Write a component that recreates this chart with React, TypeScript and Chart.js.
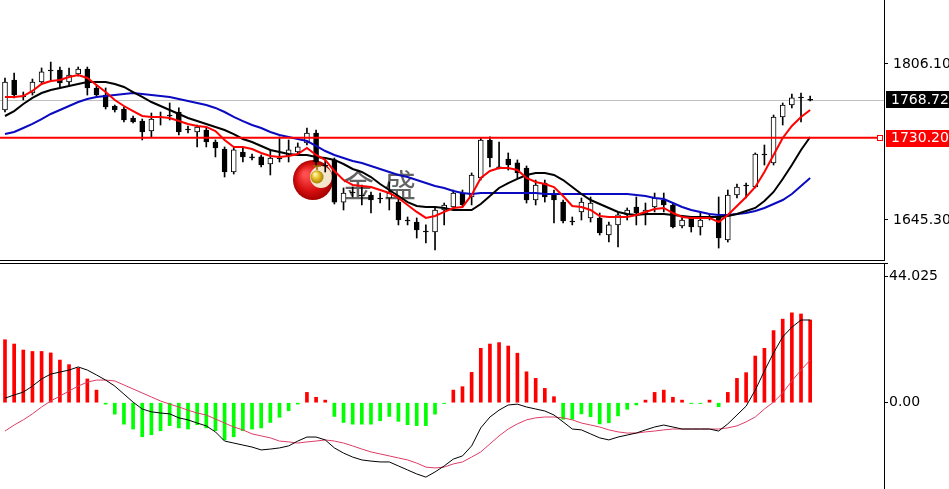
import React, { useEffect, useRef } from 'react';
import { Chart, registerables } from 'chart.js';

Chart.register(...registerables);

const FONT = '"DejaVu Sans", Verdana, sans-serif';

// ---- price panel data (one value per candle) ----
const openP = [1758.7,1789.6,1773.1,1776.2,1787.5,1799.9,1799.9,1787.5,1795.8,1800.9,
  1781.4,1774.1,1762.8,1759.7,1750.4,1747.3,1737.0,1751.5,1753.5,1756.6,
  1739.1,1736.0,1738.1,1725.7,1718.5,1694.8,1715.4,1710.3,1710.3,1703.0,
  1709.2,1711.3,1715.4,1724.7,1735.0,1702.0,1707.2,1663.8,1674.2,1671.1,
  1671.1,1668.0,1668.0,1663.8,1645.3,1643.2,1634.0,1632.9,1655.6,1658.7,
  1673.1,1669.0,1688.6,1727.8,1700.0,1708.2,1704.1,1698.9,1665.9,1683.4,
  1671.1,1663.8,1644.3,1653.6,1647.4,1647.4,1629.8,1640.2,1650.5,1658.7,
  1650.5,1658.7,1665.9,1660.8,1639.1,1647.4,1638.1,1648.4,1648.4,1624.7,
  1671.1,1681.4,1679.3,1713.3,1704.1,1751.5,1763.8,1772.1,1769.7];
const closeP = [1787.5,1774.1,1772.1,1787.5,1797.9,1798.9,1786.5,1794.8,1800.9,1781.4,
  1774.1,1761.8,1758.7,1748.4,1746.3,1736.0,1749.4,1750.5,1752.5,1736.0,
  1738.1,1741.2,1725.7,1719.5,1694.8,1717.5,1710.3,1709.3,1702.0,1709.2,
  1708.2,1717.5,1720.6,1735.0,1705.1,1701.0,1663.8,1673.1,1673.2,1670.1,
  1665.9,1667.0,1673.1,1645.3,1644.3,1635.0,1633.0,1655.6,1660.8,1673.1,
  1660.8,1691.7,1727.8,1709.2,1699.0,1702.0,1693.8,1665.9,1681.4,1669.0,
  1665.9,1644.3,1643.3,1663.8,1662.8,1631.9,1640.2,1650.5,1655.6,1652.5,
  1655.6,1668.0,1660.8,1638.1,1645.3,1638.1,1645.3,1647.4,1626.7,1671.1,
  1679.3,1680.4,1713.3,1712.3,1751.5,1763.8,1771.1,1771.1,1768.7];
const highP = [1791.7,1796.8,1777.2,1790.6,1802.0,1808.1,1803.0,1802.0,1803.0,1803.0,
  1784.5,1781.4,1763.8,1761.8,1752.5,1749.4,1755.6,1756.6,1765.9,1760.8,
  1742.2,1743.2,1741.2,1727.8,1720.6,1719.5,1719.5,1713.3,1712.3,1717.5,
  1730.9,1727.8,1724.7,1740.1,1738.1,1707.2,1709.2,1678.3,1679.3,1681.4,
  1674.2,1673.1,1684.5,1668.0,1648.4,1647.4,1640.2,1657.7,1662.8,1676.2,
  1676.2,1693.8,1729.8,1730.9,1725.7,1714.4,1707.2,1701.0,1686.5,1686.5,
  1676.2,1665.9,1648.4,1668.0,1669.0,1652.5,1643.2,1652.5,1657.7,1669.0,
  1662.8,1673.1,1673.1,1662.8,1647.4,1648.4,1653.6,1651.5,1669.0,1676.2,
  1682.4,1683.4,1714.4,1722.6,1753.5,1765.9,1775.2,1776.2,1773.1];
const lowP = [1756.6,1771.1,1769.0,1774.1,1785.5,1789.6,1782.4,1784.5,1793.7,1774.1,
  1772.1,1759.7,1756.6,1746.3,1745.3,1727.8,1730.9,1743.2,1748.4,1732.9,
  1735.0,1720.6,1720.6,1710.3,1689.6,1692.7,1705.1,1707.2,1700.0,1691.7,
  1705.1,1705.1,1712.3,1722.6,1702.0,1694.8,1661.8,1655.6,1669.0,1660.8,
  1652.5,1662.8,1655.6,1640.2,1640.2,1626.7,1621.6,1614.4,1640.2,1655.6,
  1658.7,1660.8,1686.5,1700.0,1698.0,1696.8,1688.6,1662.8,1660.8,1663.8,
  1642.2,1642.2,1640.2,1645.3,1643.2,1629.8,1622.6,1617.5,1645.3,1640.2,
  1640.2,1653.6,1653.6,1637.1,1637.1,1632.9,1629.8,1645.3,1616.4,1622.6,
  1668.0,1668.0,1678.3,1702.0,1702.0,1743.2,1760.8,1746.3,1768.0];

const maFast = [1772.1,1772.1,1773.1,1778.3,1785.5,1788.6,1789.6,1792.7,1794.8,1791.7,
  1784.5,1777.2,1769.0,1762.8,1757.6,1752.5,1751.5,1751.5,1750.4,1747.3,
  1744.3,1742.2,1741.2,1737.0,1727.8,1720.6,1720.6,1718.5,1714.4,1711.3,
  1710.3,1711.3,1713.3,1719.5,1712.3,1707.2,1695.8,1686.5,1681.4,1680.3,
  1679.3,1676.2,1673.1,1668.0,1660.8,1653.6,1647.4,1649.4,1653.6,1657.7,
  1658.7,1671.1,1688.6,1695.8,1698.9,1698.9,1696.8,1688.6,1684.5,1682.4,
  1679.3,1670.0,1659.7,1658.7,1655.6,1649.4,1648.4,1648.4,1648.4,1650.5,
  1653.6,1656.6,1657.7,1652.5,1648.4,1647.4,1647.4,1647.4,1643.2,1650.5,
  1659.7,1669.0,1679.3,1694.8,1712.3,1729.8,1742.2,1751.5,1758.7];
const maMid = [1752.5,1757.6,1764.9,1771.1,1776.2,1779.3,1781.4,1783.4,1785.5,1787.5,
  1787.5,1787.5,1785.5,1782.4,1777.2,1772.1,1766.9,1762.8,1758.7,1754.6,
  1750.4,1747.3,1744.3,1741.2,1738.1,1733.9,1728.8,1725.7,1721.6,1717.5,
  1715.4,1713.3,1712.3,1712.3,1710.3,1709.2,1707.2,1703.0,1697.9,1694.8,
  1689.6,1682.4,1676.2,1670.0,1663.8,1659.7,1658.7,1658.7,1657.7,1655.6,
  1655.6,1655.6,1661.8,1670.0,1678.3,1683.4,1687.6,1691.7,1693.8,1693.8,
  1691.7,1686.5,1679.3,1672.1,1665.9,1661.8,1657.7,1653.6,1651.5,1650.5,
  1651.5,1651.5,1651.5,1650.5,1649.4,1648.4,1648.4,1648.4,1648.4,1649.4,
  1651.5,1654.6,1657.7,1664.9,1674.2,1687.6,1702.0,1717.5,1730.9];
const maSlow = [1733.9,1736.0,1740.1,1744.3,1749.4,1754.6,1758.7,1762.8,1766.9,1770.0,
  1772.1,1773.1,1774.1,1775.2,1776.2,1775.2,1774.1,1773.1,1772.1,1770.0,
  1768.0,1765.9,1763.8,1760.8,1756.6,1751.5,1747.3,1743.2,1740.1,1736.0,
  1732.9,1730.9,1728.8,1726.7,1721.6,1716.4,1712.3,1709.2,1706.1,1704.1,
  1701.0,1697.9,1694.8,1691.7,1689.6,1686.5,1683.4,1680.3,1678.3,1675.2,
  1673.1,1672.1,1673.1,1673.1,1673.1,1673.1,1673.1,1673.1,1673.1,1672.1,
  1672.1,1672.1,1672.1,1672.1,1672.1,1672.1,1672.1,1672.1,1672.1,1671.1,
  1670.0,1668.0,1666.9,1662.8,1658.7,1655.6,1653.6,1651.5,1650.5,1650.5,
  1651.5,1652.5,1654.6,1657.7,1661.8,1665.9,1672.1,1680.3,1688.6];

const priceTicks = [1645.3, 1806.1];
const lastPrice = 1768.72;
const levelPrice = 1730.2;
const watermark = ['金', '盛'];

// ---- MACD panel data ----
const macdHist = [22.0,20.5,18.4,17.9,17.9,17.4,14.9,13.3,12.1,8.3,
  4.4,-0.5,-4.0,-7.5,-9.2,-11.9,-11.2,-9.8,-8.0,-8.8,
  -9.2,-7.7,-8.8,-9.8,-13.0,-11.9,-9.8,-9.2,-8.8,-6.9,
  -5.1,-2.8,-0.5,3.6,1.9,0.9,-4.8,-6.9,-7.5,-7.5,
  -7.5,-6.3,-4.8,-6.5,-7.7,-8.0,-8.0,-4.0,-0.3,4.4,
  5.6,10.6,19.0,20.5,21.0,19.8,17.3,10.8,8.5,5.0,
  2.1,-5.8,-5.8,-3.9,-4.9,-7.4,-7.0,-4.6,-2.3,-0.8,
  0.9,3.6,4.4,1.9,0.9,-0.3,-0.3,0.9,-1.4,3.6,
  8.5,10.5,16.3,19.0,25.2,29.2,31.4,31.0,28.9];
const macdMain = [1.6,2.7,3.7,5.8,8.3,10.0,10.7,11.4,12.5,11.4,
  9.7,7.9,5.8,3.0,0.2,-2.2,-3.2,-3.6,-3.9,-5.3,
  -6.0,-7.1,-8.1,-10.2,-13.4,-14.1,-14.8,-15.5,-16.5,-16.2,
  -15.8,-15.1,-13.4,-12.0,-12.0,-13.0,-15.8,-17.6,-19.0,-20.0,
  -20.4,-20.7,-20.7,-22.1,-23.5,-24.9,-26.0,-24.2,-22.1,-19.7,
  -18.6,-15.1,-8.8,-5.0,-2.6,-0.8,-0.5,-1.5,-2.2,-2.9,
  -4.3,-6.7,-9.2,-9.5,-10.9,-12.3,-13.0,-12.0,-11.3,-10.6,
  -9.5,-8.5,-7.8,-8.5,-9.2,-9.2,-9.2,-9.2,-9.9,-7.4,
  -4.3,-1.2,4.4,11.1,17.4,23.0,26.4,28.9,28.9];
const macdSignal = [-9.9,-7.8,-6.0,-3.9,-1.5,0.6,2.3,4.1,5.8,7.2,
  7.9,7.9,7.6,6.2,4.8,3.4,2.0,0.6,-0.5,-1.5,
  -2.6,-3.6,-4.3,-5.7,-7.1,-8.5,-9.5,-10.9,-11.6,-12.3,
  -13.4,-13.7,-14.1,-13.7,-13.4,-13.0,-13.4,-14.1,-15.1,-16.2,
  -17.2,-17.9,-18.6,-19.3,-20.0,-21.1,-22.5,-22.8,-22.5,-21.4,
  -20.7,-19.0,-17.2,-14.4,-11.6,-9.2,-7.4,-6.0,-5.3,-5.0,
  -5.0,-5.3,-6.0,-7.1,-7.8,-8.5,-9.5,-10.2,-10.6,-10.6,
  -10.2,-9.9,-9.5,-9.2,-9.2,-9.2,-9.2,-9.2,-9.2,-8.8,
  -8.1,-6.7,-5.0,-2.2,0.2,3.4,7.6,11.4,14.9];
const macdTicks = [0, 44.025];

const X_MIN = -0.546;
const X_MAX = 96.07;

const W = 949;
const TOP_H = 261;
const BOT_TOP = 263;
const BOT_H = 226;

function App() {
  const topRef = useRef<HTMLCanvasElement | null>(null);
  const botRef = useRef<HTMLCanvasElement | null>(null);

  useEffect(() => {
    const idx = openP.map((_, i) => i);
    const pts = (arr: number[]) => arr.map((y, i) => ({ x: i, y }));

    const topDecor = {
      id: 'topDecor',
      beforeDatasetsDraw(chart: any) {
        const { ctx, chartArea, scales } = chart;
        const y = scales.y;
        ctx.save();
        // last price grey line
        const yl = Math.round(y.getPixelForValue(lastPrice)) + 0.5;
        ctx.strokeStyle = '#c0c0c0';
        ctx.lineWidth = 1;
        ctx.beginPath();
        ctx.moveTo(chartArea.left, yl);
        ctx.lineTo(chartArea.right, yl);
        ctx.stroke();
        // logo watermark
        const cx = 313, cy = 180;
        const g = ctx.createRadialGradient(cx - 8, cy - 6, 2, cx, cy, 21);
        g.addColorStop(0, '#ff5050');
        g.addColorStop(0.6, '#d81010');
        g.addColorStop(1, '#a00000');
        ctx.fillStyle = g;
        ctx.beginPath();
        ctx.arc(cx, cy, 20, 0, Math.PI * 2);
        ctx.fill();
        ctx.fillStyle = '#f4e6cc';
        ctx.beginPath();
        ctx.arc(cx + 8, cy - 3, 11, 0, Math.PI * 2);
        ctx.fill();
        const g2 = ctx.createRadialGradient(cx + 2, cy - 6, 1, cx + 4, cy - 3, 7);
        g2.addColorStop(0, '#fff3a0');
        g2.addColorStop(0.5, '#e0b820');
        g2.addColorStop(1, '#a07800');
        ctx.fillStyle = g2;
        ctx.beginPath();
        ctx.arc(cx + 4, cy - 3, 6.5, 0, Math.PI * 2);
        ctx.fill();
        ctx.strokeStyle = '#907000';
        ctx.lineWidth = 1.5;
        ctx.beginPath();
        ctx.moveTo(cx + 4, cy - 10);
        ctx.lineTo(cx + 4, cy - 14);
        ctx.moveTo(cx, cy - 14);
        ctx.lineTo(cx + 8, cy - 14);
        ctx.stroke();
        ctx.font = '32px "Noto Sans CJK SC"';
        ctx.fillStyle = 'rgba(60,60,60,0.8)';
        ctx.textBaseline = 'alphabetic';
        ctx.fillText(watermark[0], 342, 197);
        ctx.fillText(watermark[1], 384, 197);
        ctx.restore();
      },
      afterDatasetsDraw(chart: any) {
        const { ctx, chartArea, scales } = chart;
        const y = scales.y;
        ctx.save();
        // horizontal level line
        const yv = y.getPixelForValue(levelPrice);
        ctx.strokeStyle = '#ff0000';
        ctx.lineWidth = 2;
        ctx.beginPath();
        ctx.moveTo(chartArea.left, yv);
        ctx.lineTo(chartArea.right - 7, yv);
        ctx.stroke();
        ctx.fillStyle = '#ffffff';
        ctx.fillRect(chartArea.right - 7, yv - 3, 6, 6);
        ctx.lineWidth = 1;
        ctx.strokeRect(chartArea.right - 6.5, Math.round(yv) - 2.5, 5, 5);
        // bottom border of panel
        ctx.strokeStyle = '#000';
        ctx.lineWidth = 1;
        ctx.beginPath();
        ctx.moveTo(0, chartArea.bottom - 0.5);
        ctx.lineTo(chartArea.right + 0.5, chartArea.bottom - 0.5);
        ctx.stroke();
        ctx.restore();
      },
      afterDraw(chart: any) {
        const { ctx, chartArea, scales } = chart;
        const y = scales.y;
        ctx.save();
        ctx.font = '14px ' + FONT;
        ctx.textBaseline = 'middle';
        ctx.textAlign = 'left';
        const yl = y.getPixelForValue(lastPrice);
        ctx.fillStyle = '#000';
        ctx.fillRect(chartArea.right + 2, Math.round(yl) - 9, 70, 17);
        ctx.fillStyle = '#fff';
        ctx.fillText(lastPrice.toFixed(2), chartArea.right + 7, yl);
        const yv = y.getPixelForValue(levelPrice);
        ctx.fillStyle = '#ff0000';
        ctx.fillRect(chartArea.right + 2, Math.round(yv) - 8, 70, 17);
        ctx.fillStyle = '#fff';
        ctx.fillText(levelPrice.toFixed(2), chartArea.right + 7, yv + 1);
        ctx.restore();
      },
    };

    const topChart = new Chart(topRef.current as HTMLCanvasElement, {
      type: 'bar',
      data: {
        datasets: [
          { type: 'line', label: 'MA fast', data: pts(maFast), borderColor: '#ff0000', borderWidth: 2, pointRadius: 0, tension: 0, order: 1 } as any,
          { type: 'line', label: 'MA mid', data: pts(maMid), borderColor: '#000000', borderWidth: 2, pointRadius: 0, tension: 0, order: 2 } as any,
          { type: 'line', label: 'MA slow', data: pts(maSlow), borderColor: '#0a0ac0', borderWidth: 2, pointRadius: 0, tension: 0, order: 3 } as any,
          {
            type: 'bar', label: 'body',
            data: idx.map((i) => ({ x: i, y: [openP[i], closeP[i]] })),
            backgroundColor: idx.map((i) => (closeP[i] > openP[i] ? '#ffffff' : '#000000')),
            borderColor: '#000000', borderWidth: 1, borderSkipped: false,
            barThickness: 5, grouped: false, order: 4,
          } as any,
          {
            type: 'bar', label: 'wick',
            data: idx.map((i) => ({ x: i, y: [lowP[i], highP[i]] })),
            backgroundColor: '#000000', barThickness: 1, grouped: false, order: 5,
          } as any,
        ],
      },
      options: {
        responsive: false,
        animation: false,
        events: [],
        layout: { padding: 0 },
        plugins: { legend: { display: false }, tooltip: { enabled: false } },
        scales: {
          x: { type: 'linear', min: X_MIN, max: X_MAX, display: false, offset: false },
          y: {
            position: 'right',
            min: 1872.07 - 1.0308 * TOP_H,
            max: 1872.07,
            afterBuildTicks: (s: any) => { s.ticks = priceTicks.map((v) => ({ value: v })); },
            afterFit: (s: any) => { s.width = 65; s.paddingTop = 0; s.paddingBottom = 0; },
            ticks: { font: { family: FONT, size: 14 }, color: '#000', padding: 5, callback: (v: any) => Number(v).toFixed(2) },
            grid: { drawOnChartArea: false, drawTicks: true, tickLength: 4, color: '#000' },
            border: { display: true, color: '#000' },
          },
        },
      } as any,
      plugins: [topDecor],
    });

    const botDecor = {
      id: 'botDecor',
      afterDraw(chart: any) {
        const { ctx, chartArea } = chart;
        ctx.save();
        ctx.strokeStyle = '#000';
        ctx.lineWidth = 1;
        ctx.beginPath();
        ctx.moveTo(0, 0.5);
        ctx.lineTo(chartArea.right + 4, 0.5);
        ctx.stroke();
        ctx.restore();
      },
    };

    const botChart = new Chart(botRef.current as HTMLCanvasElement, {
      type: 'bar',
      data: {
        datasets: [
          { type: 'line', label: 'MACD', data: pts(macdMain), borderColor: '#000000', borderWidth: 1, pointRadius: 0, tension: 0, order: 1 } as any,
          { type: 'line', label: 'Signal', data: pts(macdSignal), borderColor: '#dc3c64', borderWidth: 1, pointRadius: 0, tension: 0, order: 2 } as any,
          {
            type: 'bar', label: 'Histogram',
            data: macdHist.map((v, i) => ({ x: i, y: v })),
            backgroundColor: macdHist.map((v) => (v >= 0 ? '#ff0000' : '#00ff00')),
            barThickness: 3, grouped: false, order: 3,
          } as any,
        ],
      },
      options: {
        responsive: false,
        animation: false,
        events: [],
        layout: { padding: 0 },
        plugins: { legend: { display: false }, tooltip: { enabled: false } },
        scales: {
          x: { type: 'linear', min: X_MIN, max: X_MAX, display: false, offset: false },
          y: {
            position: 'right',
            min: -(BOT_H - 139.7) * 0.3494,
            max: 139.7 * 0.3494,
            afterBuildTicks: (s: any) => { s.ticks = macdTicks.map((v) => ({ value: v })); },
            afterFit: (s: any) => { s.width = 65; s.paddingTop = 0; s.paddingBottom = 0; },
            ticks: { font: { family: FONT, size: 14 }, color: '#000', padding: 1, callback: (v: any) => (Number(v) === 0 ? '0.00' : String(v)) },
            grid: { drawOnChartArea: false, drawTicks: true, tickLength: 4, color: '#000' },
            border: { display: true, color: '#000' },
          },
        },
      } as any,
      plugins: [botDecor],
    });

    return () => {
      topChart.destroy();
      botChart.destroy();
    };
  }, []);

  return (
    <div style={{ position: 'fixed', left: 0, top: 0, width: W, height: 489, background: '#ffffff', overflow: 'hidden' }}>
      <canvas ref={topRef} width={W} height={TOP_H} style={{ position: 'absolute', left: 0, top: 0 }} />
      <canvas ref={botRef} width={W} height={BOT_H} style={{ position: 'absolute', left: 0, top: BOT_TOP }} />
    </div>
  );
}

export default App;
